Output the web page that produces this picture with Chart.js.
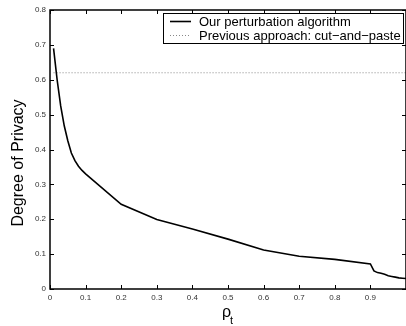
<!DOCTYPE html>
<html>
<head>
<meta charset="utf-8">
<script src="https://cdn.jsdelivr.net/npm/chart.js@4/dist/chart.umd.min.js"></script>
<style>
  html, body { margin: 0; padding: 0; background: #fff; }
  canvas { display: block; }
</style>
</head>
<body>
<canvas id="c" width="406" height="326"></canvas>
<script>
// ---- data ----
const rhoT = [0.01, 0.02, 0.03, 0.04, 0.05, 0.06, 0.07, 0.08, 0.09, 0.1,
              0.2, 0.3, 0.4, 0.5, 0.6, 0.7, 0.8, 0.9,
              0.91, 0.92, 0.93, 0.94, 0.95, 0.96, 0.97, 0.98, 0.99, 1.0];
const degreeOurs = [0.69, 0.60, 0.525, 0.468, 0.425, 0.39, 0.368, 0.352, 0.34, 0.33,
                    0.243, 0.199, 0.172, 0.143, 0.112, 0.094, 0.085, 0.072,
                    0.052, 0.047, 0.045, 0.042, 0.038, 0.036, 0.034, 0.032, 0.031, 0.03];
const rhoPrevious = [0.01, 1.0];
const degreePrevious = [0.62, 0.62];
const xTickValues = [0, 0.1, 0.2, 0.3, 0.4, 0.5, 0.6, 0.7, 0.8, 0.9, 1.0];
const yTickValues = [0, 0.1, 0.2, 0.3, 0.4, 0.5, 0.6, 0.7, 0.8];
const seriesLabels = ['Our perturbation algorithm', 'Previous approach: cut\u2212and\u2212paste'];
const yTitle = 'Degree of Privacy';

const FONT = '"Liberation Sans", Arial, Helvetica, sans-serif';

function fmt(v) {
  const r = Math.round(v * 10) / 10;
  return r === 0 ? '0' : String(r);
}

const framePlugin = {
  id: 'frame',
  afterDraw(chart) {
    const ctx = chart.ctx;
    const a = chart.chartArea;
    const xs = chart.scales.x, ys = chart.scales.y;
    ctx.save();
    ctx.strokeStyle = '#000';
    // box
    ctx.lineWidth = 1.5;
    ctx.beginPath();
    ctx.moveTo(a.right + 1, a.top);
    ctx.lineTo(a.left, a.top);
    ctx.lineTo(a.left, a.bottom);
    ctx.lineTo(a.right + 1, a.bottom);
    ctx.moveTo(a.right, a.top);
    ctx.lineTo(a.right, a.bottom);
    ctx.stroke();
    // inward ticks
    ctx.lineWidth = 1;
    const tl = 4;
    ctx.beginPath();
    xTickValues.forEach(v => {
      const px = Math.round(xs.getPixelForValue(v)) + 0.5;
      ctx.moveTo(px, a.bottom); ctx.lineTo(px, a.bottom - tl);
      ctx.moveTo(px, a.top); ctx.lineTo(px, a.top + tl);
    });
    yTickValues.forEach(v => {
      const py = Math.round(ys.getPixelForValue(v)) + 0.5;
      ctx.moveTo(a.left, py); ctx.lineTo(a.left + tl, py);
      ctx.moveTo(a.right, py); ctx.lineTo(a.right - tl, py);
    });
    ctx.stroke();

    // legend box
    const lx = 163, ly = 13, lw = 240, lh = 30;
    ctx.fillStyle = '#fff';
    ctx.fillRect(lx, ly, lw, lh);
    ctx.lineWidth = 1;
    ctx.strokeStyle = '#000';
    ctx.strokeRect(lx + 0.5, ly + 0.5, lw, lh);
    const ds = chart.data.datasets;
    const rows = [21, 35];
    ds.forEach((d, i) => {
      const y = rows[i];
      ctx.save();
      ctx.strokeStyle = d.borderColor;
      ctx.lineWidth = d.borderWidth;
      ctx.setLineDash(d.borderDash || []);
      ctx.beginPath();
      ctx.moveTo(170, y + 0.5);
      ctx.lineTo(191, y + 0.5);
      ctx.stroke();
      ctx.restore();
      ctx.fillStyle = '#000';
      ctx.font = '13px ' + FONT;
      ctx.textAlign = 'left';
      ctx.textBaseline = 'middle';
      ctx.fillText(d.label, 199, y + 1);
    });

    // y title
    ctx.save();
    ctx.translate(23, 163);
    ctx.rotate(-Math.PI / 2);
    ctx.fillStyle = '#000';
    ctx.font = '16px ' + FONT;
    ctx.textAlign = 'center';
    ctx.textBaseline = 'alphabetic';
    ctx.fillText(yTitle, 0, 0);
    ctx.restore();

    // x title rho_t
    ctx.fillStyle = '#000';
    ctx.textAlign = 'left';
    ctx.textBaseline = 'alphabetic';
    ctx.font = '16px ' + FONT;
    ctx.fillText('\u03C1', 222, 317);
    ctx.font = '11px ' + FONT;
    ctx.fillText('t', 230, 324);
    ctx.restore();
  }
};

new Chart(document.getElementById('c'), {
  type: 'line',
  data: {
    datasets: [
      {
        label: seriesLabels[0],
        data: rhoT.map((x, i) => ({ x: x, y: degreeOurs[i] })),
        borderColor: '#000',
        borderWidth: 1.6,
        pointRadius: 0,
        tension: 0,
        fill: false
      },
      {
        label: seriesLabels[1],
        data: rhoPrevious.map((x, i) => ({ x: x, y: degreePrevious[i] })),
        borderColor: '#888',
        borderWidth: 1,
        borderDash: [1, 2],
        pointRadius: 0,
        tension: 0,
        fill: false
      }
    ]
  },
  options: {
    responsive: false,
    animation: false,
    devicePixelRatio: 1,
    layout: { padding: { top: 10, left: 0, right: 0, bottom: 0 } },
    plugins: { legend: { display: false }, tooltip: { enabled: false } },
    scales: {
      x: {
        type: 'linear', min: 0, max: 1,
        afterBuildTicks: s => { s.ticks = xTickValues.map(v => ({ value: v })); },
        ticks: {
          font: { size: 8, family: FONT }, color: '#333', padding: 4,
          maxRotation: 0, autoSkip: false,
          callback: v => (v >= 1 ? '' : fmt(v))
        },
        grid: { display: false, drawTicks: false },
        border: { display: false },
        afterFit: s => { s.height = 37; s.paddingLeft = 0; s.paddingRight = 0; }
      },
      y: {
        type: 'linear', min: 0, max: 0.8,
        afterBuildTicks: s => { s.ticks = yTickValues.map(v => ({ value: v })); },
        ticks: {
          font: { size: 8, family: FONT }, color: '#333', padding: 4,
          autoSkip: false,
          callback: v => fmt(v)
        },
        grid: { display: false, drawTicks: false },
        border: { display: false },
        afterFit: s => { s.width = 50; s.paddingTop = 0; s.paddingBottom = 0; }
      }
    }
  },
  plugins: [framePlugin]
});
</script>
</body>
</html>
